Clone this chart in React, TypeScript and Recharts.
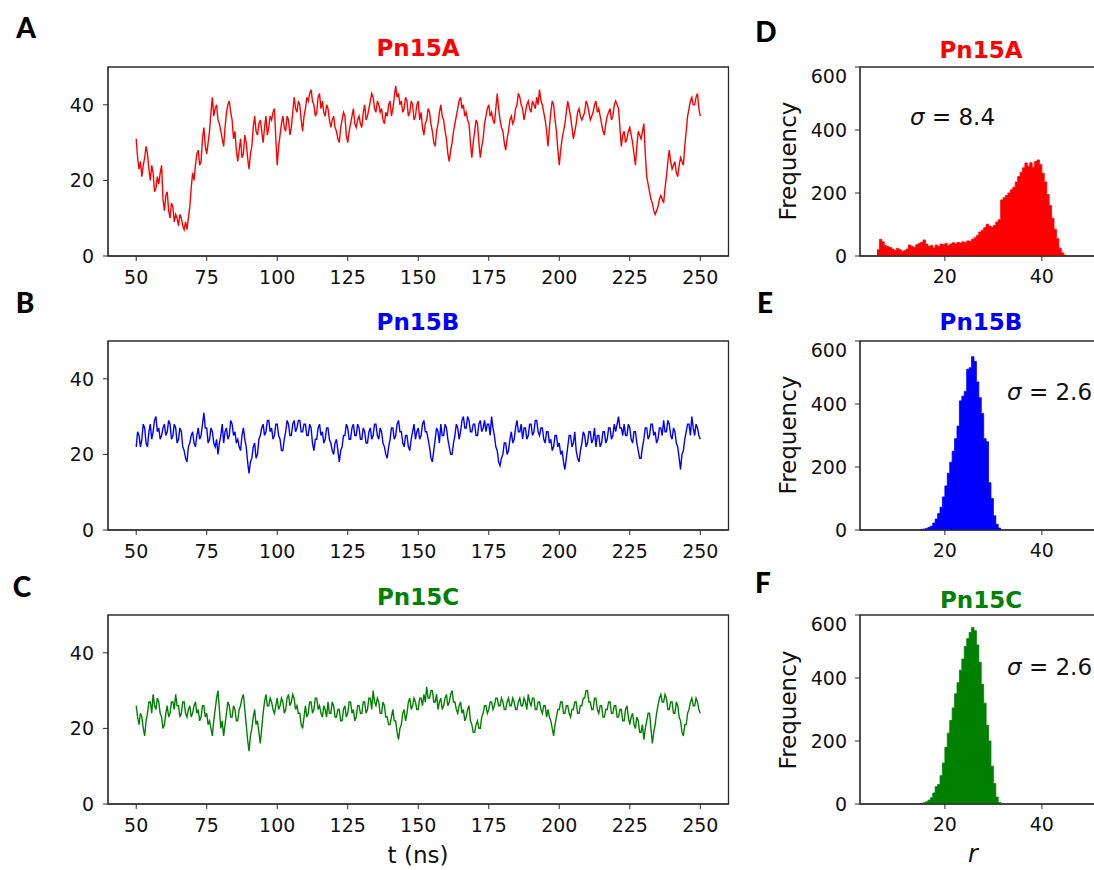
import React from "react";
import { LineChart, Line, AreaChart, Area, XAxis, YAxis, ReferenceArea } from "recharts";

// time axis: one sample every 0.5 ns starting at 50 ns
const tStart = 50;
const tStep = 0.5;
const timeTicks = [50, 75, 100, 125, 150, 175, 200, 225, 250];
const distTicks = [0, 20, 40];
const rTicks = [20, 40];
const freqTicks = [0, 200, 400, 600];

const pn15A = [
  31, 26, 23, 25, 21, 24, 26, 29, 27, 23, 20, 24, 22, 17, 18, 21, 19, 22, 24, 15,
  12, 16, 17, 12, 10, 14, 13, 9, 11, 10, 8, 11, 10, 8, 7, 9, 7, 10, 13, 18,
  22, 20, 24, 27, 28, 24, 25, 31, 34, 29, 27, 30, 33, 38, 42, 37, 39, 40, 36, 35,
  33, 31, 29, 34, 38, 40, 41, 38, 36, 31, 33, 28, 25, 28, 31, 26, 27, 32, 30, 26,
  23, 27, 29, 34, 37, 33, 32, 35, 36, 33, 30, 34, 37, 32, 34, 37, 36, 38, 39, 31,
  24, 29, 32, 35, 37, 34, 33, 37, 36, 32, 34, 38, 42, 39, 38, 41, 40, 36, 33, 37,
  39, 42, 41, 43, 44, 41, 40, 37, 38, 42, 43, 39, 41, 38, 37, 40, 39, 36, 34, 36,
  37, 34, 33, 31, 30, 34, 36, 38, 37, 32, 30, 33, 35, 37, 39, 35, 34, 36, 37, 35,
  34, 38, 40, 36, 37, 39, 41, 43, 42, 39, 38, 41, 40, 38, 39, 36, 35, 38, 37, 40,
  41, 37, 39, 42, 45, 42, 43, 40, 41, 38, 39, 42, 41, 37, 38, 41, 40, 36, 37, 40,
  41, 36, 38, 34, 32, 35, 36, 39, 38, 35, 33, 30, 29, 33, 35, 38, 40, 37, 36, 33,
  31, 27, 25, 28, 30, 33, 35, 37, 39, 41, 42, 39, 40, 37, 38, 36, 35, 30, 26, 30,
  33, 36, 35, 30, 26, 29, 31, 35, 37, 39, 40, 37, 38, 36, 35, 39, 43, 39, 36, 34,
  33, 30, 28, 31, 33, 36, 37, 35, 36, 39, 40, 43, 42, 40, 39, 36, 38, 40, 41, 39,
  38, 41, 40, 39, 42, 40, 44, 41, 40, 38, 36, 33, 29, 34, 38, 41, 40, 36, 33, 28,
  24, 28, 31, 33, 35, 38, 41, 39, 37, 34, 31, 33, 35, 38, 39, 37, 36, 37, 38, 41,
  40, 38, 36, 37, 38, 40, 41, 38, 39, 37, 35, 33, 32, 35, 37, 38, 39, 36, 37, 40,
  41, 40, 39, 34, 29, 32, 33, 30, 31, 33, 34, 32, 30, 27, 24, 29, 33, 32, 31, 33,
  35, 27, 21, 19, 17, 15, 14, 12, 11, 12, 13, 15, 16, 15, 14, 18, 21, 25, 28, 25,
  23, 24, 25, 22, 21, 24, 26, 25, 24, 29, 33, 37, 39, 41, 42, 40, 40, 42, 43, 39,
  37,
];

const pn15B = [
  22, 26, 25, 22, 24, 28, 27, 23, 22, 26, 28, 24, 26, 29, 30, 26, 27, 24, 25, 27,
  28, 25, 26, 29, 28, 24, 25, 28, 27, 23, 24, 27, 26, 22, 21, 19, 18, 22, 23, 25,
  26, 23, 22, 25, 27, 24, 25, 28, 31, 27, 27, 23, 24, 27, 26, 23, 22, 24, 20, 23,
  25, 28, 23, 26, 27, 24, 25, 29, 28, 25, 26, 23, 24, 22, 21, 25, 27, 24, 22, 18,
  15, 18, 19, 22, 23, 19, 20, 24, 25, 27, 28, 25, 26, 29, 29, 26, 27, 24, 25, 28,
  28, 25, 24, 21, 21, 24, 26, 29, 28, 25, 25, 28, 29, 26, 27, 29, 29, 26, 26, 28,
  28, 25, 25, 28, 27, 23, 21, 24, 24, 27, 28, 25, 26, 23, 24, 27, 27, 24, 23, 21,
  20, 23, 24, 21, 18, 21, 22, 25, 25, 28, 27, 24, 24, 27, 28, 25, 25, 28, 27, 24,
  24, 27, 26, 23, 23, 26, 27, 24, 25, 28, 28, 25, 24, 27, 26, 23, 22, 20, 19, 22,
  24, 27, 27, 24, 25, 28, 29, 26, 26, 23, 22, 25, 25, 22, 21, 24, 26, 28, 24, 26,
  27, 24, 25, 28, 29, 26, 26, 24, 22, 19, 18, 21, 24, 27, 26, 23, 28, 25, 25, 28,
  27, 24, 22, 20, 20, 23, 25, 28, 27, 24, 26, 29, 30, 27, 27, 30, 29, 26, 26, 28,
  28, 25, 25, 28, 29, 26, 27, 29, 26, 28, 28, 25, 30, 27, 25, 22, 21, 18, 17, 19,
  20, 23, 23, 20, 21, 24, 26, 23, 24, 27, 29, 26, 26, 28, 24, 27, 27, 24, 25, 28,
  28, 25, 26, 29, 29, 26, 25, 27, 27, 24, 23, 26, 26, 23, 24, 21, 22, 25, 25, 22,
  23, 20, 21, 18, 16, 19, 22, 25, 25, 22, 23, 26, 21, 19, 18, 21, 23, 26, 25, 22,
  23, 26, 26, 23, 24, 27, 22, 25, 25, 22, 23, 26, 26, 23, 24, 27, 27, 24, 25, 28,
  26, 28, 30, 27, 27, 25, 28, 25, 25, 28, 27, 24, 23, 26, 26, 23, 21, 19, 19, 22,
  24, 27, 27, 24, 25, 28, 28, 25, 26, 23, 24, 27, 27, 25, 29, 26, 26, 29, 28, 25,
  24, 27, 26, 23, 22, 19, 16, 20, 21, 24, 26, 28, 28, 25, 30, 27, 25, 28, 27, 25,
  24,
];

const pn15C = [
  26, 23, 21, 24, 23, 20, 18, 22, 24, 27, 27, 24, 29, 26, 25, 28, 27, 24, 23, 20,
  21, 24, 26, 23, 24, 27, 27, 25, 29, 26, 26, 23, 24, 27, 27, 24, 23, 25, 26, 23,
  24, 26, 27, 24, 25, 22, 23, 26, 26, 23, 24, 21, 22, 20, 18, 22, 25, 28, 30, 25,
  20, 22, 18, 21, 24, 27, 26, 23, 23, 26, 25, 22, 22, 25, 26, 28, 29, 25, 21, 17,
  14, 18, 20, 23, 25, 21, 22, 19, 16, 20, 24, 27, 29, 26, 26, 28, 27, 25, 24, 26,
  28, 25, 26, 28, 27, 24, 25, 28, 29, 26, 27, 29, 28, 25, 26, 24, 24, 21, 20, 23,
  26, 23, 24, 27, 27, 24, 25, 28, 28, 25, 26, 24, 23, 26, 25, 23, 27, 24, 24, 27,
  26, 23, 23, 25, 25, 22, 22, 25, 26, 23, 24, 27, 27, 24, 25, 22, 23, 26, 26, 24,
  24, 27, 27, 24, 25, 28, 28, 25, 30, 27, 26, 28, 27, 24, 24, 27, 26, 23, 23, 21,
  21, 23, 25, 22, 22, 19, 17, 20, 21, 24, 25, 22, 24, 27, 28, 25, 26, 28, 27, 25,
  25, 28, 28, 26, 29, 27, 31, 28, 28, 30, 30, 27, 27, 29, 25, 27, 28, 25, 26, 28,
  29, 26, 27, 29, 30, 27, 27, 25, 24, 26, 27, 24, 25, 22, 23, 25, 26, 22, 21, 19,
  19, 21, 22, 20, 20, 23, 24, 26, 26, 24, 25, 27, 27, 25, 26, 28, 28, 26, 26, 28,
  27, 25, 25, 27, 28, 26, 26, 28, 27, 25, 25, 27, 28, 26, 26, 28, 27, 25, 29, 27,
  26, 28, 28, 25, 25, 27, 27, 25, 24, 26, 26, 23, 25, 23, 22, 20, 18, 21, 23, 25,
  25, 27, 27, 24, 24, 26, 26, 24, 23, 25, 25, 27, 27, 24, 24, 26, 26, 28, 28, 30,
  30, 27, 27, 25, 25, 28, 28, 25, 24, 26, 26, 23, 23, 25, 25, 27, 27, 24, 24, 26,
  26, 23, 23, 25, 25, 22, 22, 25, 26, 23, 21, 23, 24, 21, 20, 23, 22, 19, 19, 21,
  17, 20, 22, 24, 24, 20, 16, 19, 21, 24, 26, 28, 29, 27, 27, 29, 28, 25, 25, 27,
  27, 24, 24, 27, 26, 23, 22, 19, 18, 21, 21, 24, 25, 27, 28, 26, 26, 28, 27, 25,
  24,
];

// histograms: bin counts, bins of 0.5 starting at the given r
const binWidth = 0.5;
const histAStart = 6;
const histA = [
  20, 53, 45, 33, 30, 27, 22, 18, 24, 20, 15, 17, 22, 35, 30, 28, 36, 40, 44, 51,
  38, 30, 33, 26, 35, 31, 38, 36, 40, 33, 38, 42, 39, 43, 41, 45, 42, 48, 47, 53,
  58, 65, 76, 82, 90, 101, 95, 92, 97, 108, 115, 178, 185, 192, 200, 210, 218, 235, 252, 265,
  280, 295, 285, 296, 282, 300, 305, 290, 262, 235, 195, 160, 120, 85, 55, 25, 10, 3,
];
const histBStart = 15;
const histB = [
  2, 3, 5, 8, 12, 22, 35, 52, 72, 105, 140, 180, 215, 250, 290, 330, 410, 425, 440, 510,
  515, 550, 535, 470, 420, 370, 290, 280, 150, 100, 45, 18, 6,
];
const histCStart = 14.5;
const histC = [
  1, 2, 4, 7, 12, 20, 35, 55, 62, 90, 130, 180, 225, 265, 305, 350, 385, 425, 460, 500,
  525, 545, 560, 550, 505, 450, 380, 320, 250, 200, 120, 65, 22, 5,
];

const RED = "#ff0000";
const BLUE = "#0000ff";
const GREEN = "#008000";
const ink = "#2b2b2b";
const font = "'DejaVu Sans', sans-serif";
const tickFont = { fill: "#111", fontSize: 19, fontFamily: font };

const Y_W = 60;
const X_H = 40;
const M = 2;
const PLOT_H = 189;

function TracePanel({ values, color, top }: { values: number[]; color: string; top: number }) {
  const data = values.map((v, i) => ({ t: tStart + i * tStep, r: v }));
  const left = 107.5;
  const w = 620.5;
  return (
    <div style={{ position: "absolute", left: left - Y_W - M, top: top - M }}>
      <LineChart
        width={w + Y_W + 2 * M}
        height={PLOT_H + X_H + 2 * M}
        data={data}
        margin={{ top: M, right: M, bottom: M, left: M }}
      >
        <XAxis
          type="number"
          dataKey="t"
          domain={[40, 260]}
          ticks={timeTicks}
          allowDataOverflow
          height={X_H}
          tick={tickFont}
          tickSize={5}
          tickMargin={10}
          axisLine={{ stroke: ink }}
          tickLine={{ stroke: ink }}
        />
        <YAxis
          type="number"
          domain={[0, 50]}
          ticks={distTicks}
          allowDataOverflow
          width={Y_W}
          tick={tickFont}
          tickSize={5}
          tickMargin={9}
          axisLine={{ stroke: ink }}
          tickLine={{ stroke: ink }}
        />
        <ReferenceArea x1={40} x2={260} y1={0} y2={50} fill="none" stroke={ink} strokeWidth={1.3} />
        <Line type="linear" dataKey="r" stroke={color} strokeWidth={1.4} dot={false} isAnimationActive={false} />
      </LineChart>
    </div>
  );
}

function HistPanel({ start, counts, color, top }: { start: number; counts: number[]; color: string; top: number }) {
  const data = counts.map((c, i) => ({ r: start + i * binWidth, n: c }));
  data.push({ r: start + counts.length * binWidth, n: 0 });
  const left = 860;
  const w = 242.5;
  return (
    <div style={{ position: "absolute", left: left - Y_W - M, top: top - M }}>
      <AreaChart
        width={w + Y_W + 2 * M}
        height={PLOT_H + X_H + 2 * M}
        data={data}
        margin={{ top: M, right: M, bottom: M, left: M }}
      >
        <XAxis
          type="number"
          dataKey="r"
          domain={[2.5, 52.5]}
          ticks={rTicks}
          allowDataOverflow
          height={X_H}
          tick={tickFont}
          tickSize={5}
          tickMargin={9}
          axisLine={{ stroke: ink }}
          tickLine={{ stroke: ink }}
        />
        <YAxis
          type="number"
          domain={[0, 600]}
          ticks={freqTicks}
          allowDataOverflow
          width={Y_W}
          tick={tickFont}
          tickSize={5}
          tickMargin={8}
          axisLine={{ stroke: ink }}
          tickLine={{ stroke: ink }}
        />
        <ReferenceArea x1={2.5} x2={52.5} y1={0} y2={600} fill="none" stroke={ink} strokeWidth={1.3} />
        <Area
          type="stepAfter"
          dataKey="n"
          stroke={color}
          strokeWidth={0.8}
          fill={color}
          fillOpacity={1}
          isAnimationActive={false}
        />
      </AreaChart>
    </div>
  );
}

function Txt({ x, y, children, style }: { x: number; y: number; children: React.ReactNode; style?: React.CSSProperties }) {
  return (
    <div
      style={{
        position: "absolute",
        left: x,
        top: y,
        transform: "translate(-50%, -50%)",
        whiteSpace: "nowrap",
        lineHeight: 1,
        fontFamily: font,
        ...style,
      }}
    >
      {children}
    </div>
  );
}

const titleStyle = (c: string): React.CSSProperties => ({ color: c, fontWeight: 700, fontSize: 23 });
const letterStyle: React.CSSProperties = { fontFamily: "Lato, sans-serif", fontWeight: 900, fontSize: 28, color: "#000" };
const labelStyle: React.CSSProperties = { fontSize: 23, color: "#111" };

function Sigma({ x, y, value }: { x: number; y: number; value: string }) {
  return (
    <div style={{ position: "absolute", left: x, top: y, transform: "translateY(-50%)", fontFamily: font, fontSize: 23, lineHeight: 1, whiteSpace: "nowrap", color: "#111" }}>
      <span style={{ fontStyle: "italic" }}>σ</span> = {value}
    </div>
  );
}

export default function App() {
  return (
    <div style={{ position: "fixed", left: 0, top: 0, width: 1094, height: 870, overflow: "hidden", background: "#fff" }}>
      <TracePanel values={pn15A} color={RED} top={67} />
      <TracePanel values={pn15B} color={BLUE} top={341} />
      <TracePanel values={pn15C} color={GREEN} top={615} />

      <HistPanel start={histAStart} counts={histA} color={RED} top={67} />
      <HistPanel start={histBStart} counts={histB} color={BLUE} top={341} />
      <HistPanel start={histCStart} counts={histC} color={GREEN} top={615} />

      <Txt x={418} y={48} style={titleStyle(RED)}>Pn15A</Txt>
      <Txt x={418} y={322} style={titleStyle(BLUE)}>Pn15B</Txt>
      <Txt x={418} y={597} style={titleStyle(GREEN)}>Pn15C</Txt>
      <Txt x={981} y={50} style={titleStyle(RED)}>Pn15A</Txt>
      <Txt x={981} y={322} style={titleStyle(BLUE)}>Pn15B</Txt>
      <Txt x={981} y={600} style={titleStyle(GREEN)}>Pn15C</Txt>

      <Txt x={26} y={27} style={letterStyle}>A</Txt>
      <Txt x={25} y={302} style={letterStyle}>B</Txt>
      <Txt x={22} y={586} style={letterStyle}>C</Txt>
      <Txt x={766} y={31} style={letterStyle}>D</Txt>
      <Txt x={765} y={302} style={letterStyle}>E</Txt>
      <Txt x={763} y={582} style={letterStyle}>F</Txt>

      <Txt x={788} y={161} style={{ ...labelStyle, transform: "translate(-50%, -50%) rotate(-90deg)" }}>Frequency</Txt>
      <Txt x={788} y={435} style={{ ...labelStyle, transform: "translate(-50%, -50%) rotate(-90deg)" }}>Frequency</Txt>
      <Txt x={788} y={710} style={{ ...labelStyle, transform: "translate(-50%, -50%) rotate(-90deg)" }}>Frequency</Txt>

      <Sigma x={910} y={117} value="8.4" />
      <Sigma x={1007} y={392} value="2.6" />
      <Sigma x={1007} y={667} value="2.6" />

      <Txt x={418} y={855} style={labelStyle}>t (ns)</Txt>
      <Txt x={973} y={854} style={{ ...labelStyle, fontStyle: "italic", fontSize: 24 }}>r</Txt>
    </div>
  );
}
